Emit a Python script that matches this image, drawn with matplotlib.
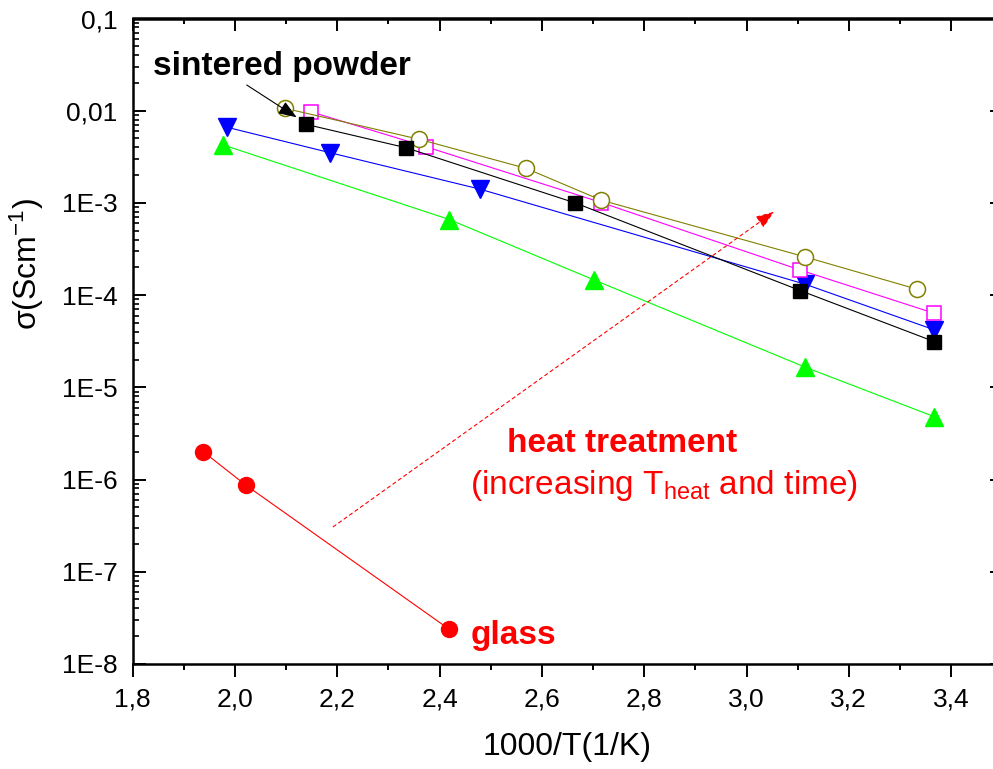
import matplotlib
matplotlib.use('Agg')
import matplotlib.pyplot as plt
from matplotlib.ticker import FixedLocator, FixedFormatter, LogLocator, NullFormatter, MultipleLocator

plt.rcParams['font.family'] = ['Liberation Sans', 'DejaVu Sans']
plt.rcParams['mathtext.fontset'] = 'custom'
plt.rcParams['mathtext.rm'] = 'Liberation Sans'
plt.rcParams['mathtext.default'] = 'regular'

# data
glass_x = [1.938, 2.021, 2.419]
glass_y = [2.0e-6, 8.7e-7, 2.37e-8]

green_x = [1.977, 2.419, 2.702, 3.115, 3.367]
green_y = [4.25e-3, 6.6e-4, 1.46e-4, 1.65e-5, 4.8e-6]

blue_x = [1.985, 2.186, 2.479, 3.115, 3.367]
blue_y = [6.6e-3, 3.5e-3, 1.41e-3, 1.31e-4, 4.2e-5]

magenta_x = [2.148, 2.373, 2.716, 3.105, 3.367]
magenta_y = [9.75e-3, 4.07e-3, 1.01e-3, 1.87e-4, 6.35e-5]

olive_x = [2.098, 2.360, 2.569, 2.716, 3.114, 3.333]
olive_y = [1.06e-2, 4.9e-3, 2.37e-3, 1.07e-3, 2.6e-4, 1.16e-4]

black_x = [2.138, 2.334, 2.665, 3.105, 3.367]
black_y = [7.13e-3, 3.97e-3, 1.0e-3, 1.12e-4, 3.13e-5]

xticks = [1.8, 2.0, 2.2, 2.4, 2.6, 2.8, 3.0, 3.2, 3.4]
xticklabels = ['1,8', '2,0', '2,2', '2,4', '2,6', '2,8', '3,0', '3,2', '3,4']
yticks = [1e-8, 1e-7, 1e-6, 1e-5, 1e-4, 1e-3, 1e-2, 1e-1]
yticklabels = ['1E-8', '1E-7', '1E-6', '1E-5', '1E-4', '1E-3', '0,01', '0,1']

fig = plt.figure(figsize=(9.93, 7.69), dpi=100)
# axes runs a bit past the right edge, like the cropped original
ax = fig.add_axes([132.7/993, 1 - 663.9/769, (1002.3-132.7)/993, (663.9-18.5)/769])

lw = 0.8
ax.plot(green_x, green_y, color='#00ff00', lw=lw, marker='^', ms=13, mec='#00ff00', mfc='#00ff00')
ax.plot(blue_x, blue_y, color='#0000ff', lw=lw, marker='v', ms=13, mec='#0000ff', mfc='#0000ff')
ax.plot(magenta_x, magenta_y, color='#ff00ff', lw=lw, marker='s', ms=10, mec='#ff00ff', mfc='white', mew=1.1)
ax.plot(olive_x, olive_y, color='#808000', lw=lw, marker='o', ms=11.5, mec='#808000', mfc='white', mew=1.1)
ax.plot(black_x, black_y, color='black', lw=lw, marker='s', ms=10.5, mec='black', mfc='black')
ax.plot(glass_x, glass_y, color='#ff0000', lw=lw, marker='o', ms=11.5, mec='#ff0000', mfc='#ff0000')

ax.set_yscale('log')
ax.set_xlim(1.8, 3.5)
ax.set_ylim(1e-8, 0.1)

ax.xaxis.set_major_locator(FixedLocator(xticks))
ax.xaxis.set_major_formatter(FixedFormatter(xticklabels))
ax.xaxis.set_minor_locator(MultipleLocator(0.1))
ax.yaxis.set_major_locator(FixedLocator(yticks))
ax.yaxis.set_major_formatter(FixedFormatter(yticklabels))
ax.yaxis.set_minor_locator(LogLocator(base=10, subs=range(2, 10), numticks=20))
ax.yaxis.set_minor_formatter(NullFormatter())

for s in ax.spines.values():
    s.set_linewidth(1.8)

ax.tick_params(axis='x', which='major', direction='out', length=9, width=1.4, labelsize=19, pad=8, top=False)
ax.tick_params(axis='x', which='minor', direction='out', length=4.5, width=1.4, top=False)
ax.tick_params(axis='y', which='major', direction='in', length=9, width=1.4, labelsize=19, pad=11, right=True)
ax.tick_params(axis='y', which='minor', direction='in', length=4.5, width=1.2, right=False)

top = ax.secondary_xaxis('top')
top.xaxis.set_major_locator(FixedLocator(xticks))
top.xaxis.set_minor_locator(MultipleLocator(0.1))
top.tick_params(which='major', direction='in', length=9, width=1.4, labeltop=False)
top.tick_params(which='minor', direction='in', length=4.5, width=1.4)
top.spines['top'].set_linewidth(1.8)

ax.set_xlabel('1000/T(1/K)', fontsize=23)
ax.xaxis.set_label_coords(0.5, -0.105)
ax.set_ylabel('σ(Scm$^{-1}$)', fontsize=23)
ax.yaxis.set_label_coords(-0.1, 0.62)

# annotations
ax.text(1.8397, 0.0244, 'sintered powder', fontsize=24, fontweight='bold', color='black',
        ha='left', va='baseline')
ax.annotate('', xy=(2.1206, 8.48e-3), xytext=(2.0229, 0.019),
            arrowprops=dict(arrowstyle='-|>,head_length=0.8,head_width=0.3', color='black',
                            lw=0.8, mutation_scale=14, shrinkA=0, shrinkB=0))
ax.annotate('', xy=(3.0538, 8.02e-4), xytext=(2.192, 3.07e-7),
            arrowprops=dict(arrowstyle='-|>,head_length=0.8,head_width=0.3', color='#ff0000',
                            lw=0.8, ls=(0, (3, 3)), mutation_scale=14, shrinkA=0, shrinkB=0))
ax.text(2.5318, 10**-5.7017, 'heat treatment', fontsize=24, fontweight='bold', color='#ff0000',
        ha='left', va='baseline')
ax.text(2.4585, 10**-6.154, '(increasing T$_{heat}$ and time)', fontsize=24, color='#ff0000',
        ha='left', va='baseline')
ax.text(2.4606, 10**-7.784, 'glass', fontsize=24, fontweight='bold', color='#ff0000',
        ha='left', va='baseline')

fig.savefig('out.png', dpi=100)
